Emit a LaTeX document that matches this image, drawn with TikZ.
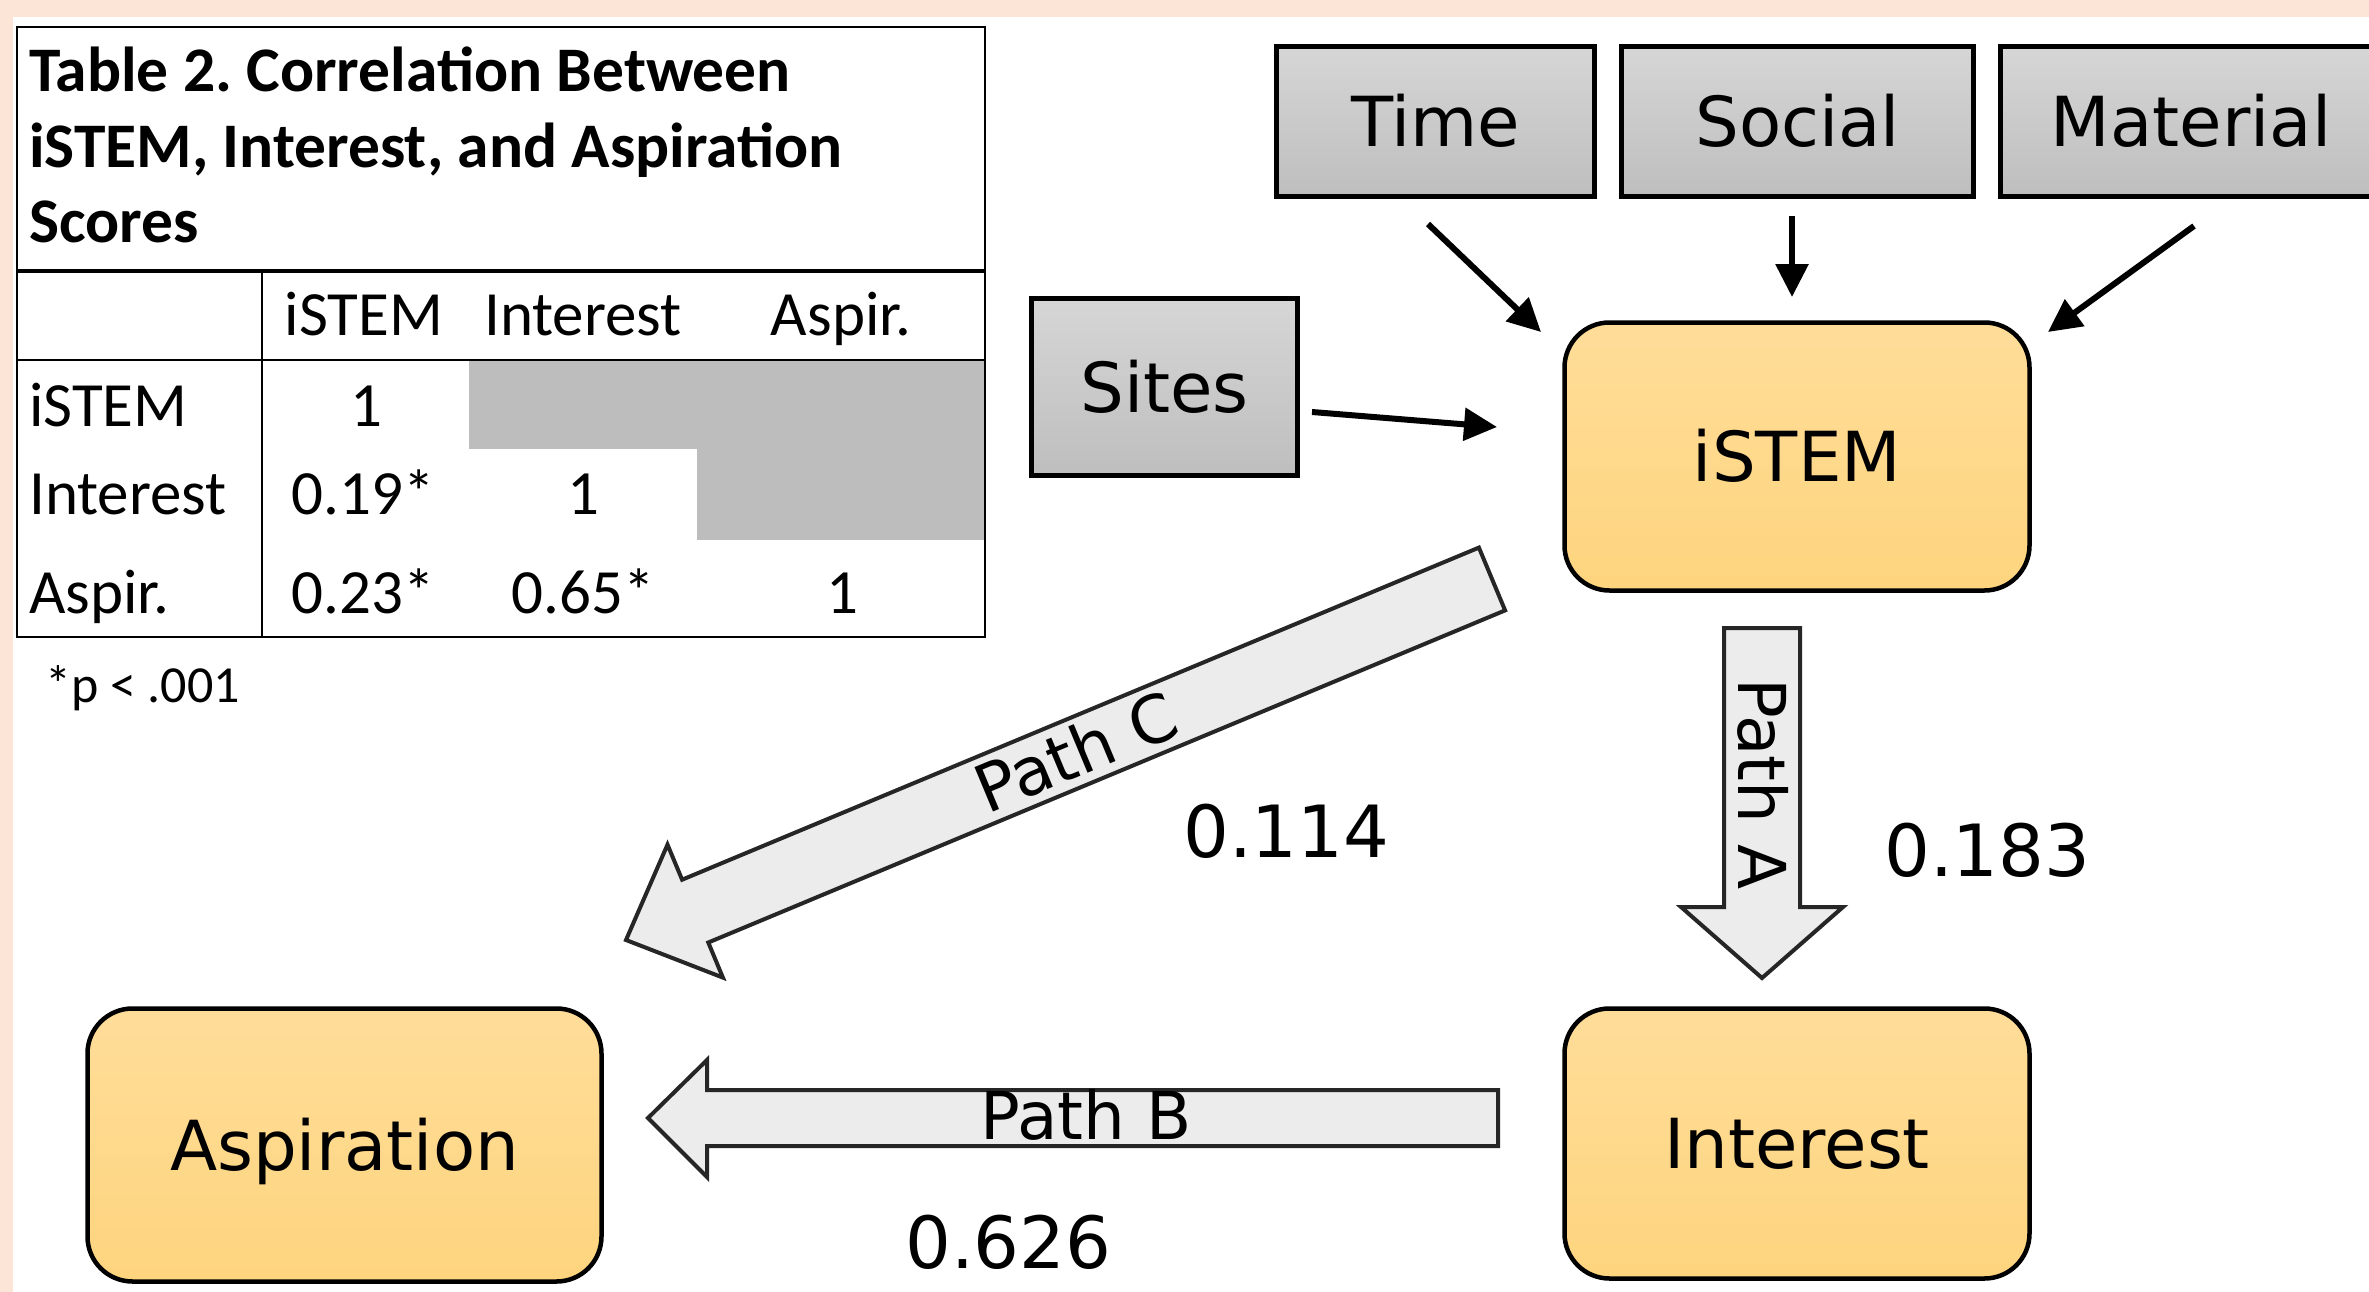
\documentclass[tikz,border=0pt]{standalone}
\usepackage{fontspec}
\setmainfont{Carlito}
\newfontfamily\dvfont{DejaVu Sans}
\usetikzlibrary{arrows.meta}
\definecolor{peach}{RGB}{252,229,214}
\definecolor{cellgray}{RGB}{189,189,189}
\definecolor{boxtop}{RGB}{214,214,214}
\definecolor{boxbot}{RGB}{190,190,190}
\definecolor{orgtop}{RGB}{255,221,153}
\definecolor{orgbot}{RGB}{254,212,126}
\definecolor{arrfill}{RGB}{236,236,236}
\frenchspacing
\begin{document}
\begin{tikzpicture}[x=1pt,y=-1pt,
  tbold/.style={inner sep=0pt, font=\bfseries\fontsize{63.5}{76}\selectfont},
  tcell/.style={inner sep=0pt, font=\fontsize{63}{72}\selectfont},
  tnote/.style={inner sep=0pt, font=\fontsize{52}{62}\selectfont},
  graybox/.style={draw=black, line width=5pt, top color=boxtop, bottom color=boxbot,
    inner sep=0pt, text height=50pt, text depth=0pt, font=\dvfont\fontsize{69}{80}\selectfont},
  orgbox/.style={draw=black, line width=4.5pt, rounded corners=45pt, top color=orgtop, bottom color=orgbot,
    inner sep=0pt, text height=50pt, text depth=0pt, font=\dvfont\fontsize{69}{80}\selectfont},
  blockarr/.style={fill=arrfill, draw=black!85, line width=4pt, line join=miter},
  pathlbl/.style={inner sep=0pt, text height=48pt, text depth=0pt, font=\dvfont\fontsize{66}{76}\selectfont},
  numlbl/.style={inner sep=0pt, font=\dvfont\fontsize{72}{82}\selectfont},
  smallarr/.style={line width=6pt, -{Triangle[length=33pt,width=32pt]}}
]
\useasboundingbox (0,0) rectangle (2369,1292);
\clip (0,0) rectangle (2369,1292);
\fill[white] (0,0) rectangle (2369,1292);
\fill[peach] (0,0) rectangle (2369,17);
\fill[peach] (0,0) rectangle (13,1292);

% ---------- table ----------
\fill[cellgray] (469,360) rectangle (985,449);
\fill[cellgray] (697,449) rectangle (985,540);
\draw[line width=2pt] (17,27) rectangle (985,637);
\draw[line width=4.6pt] (17,271) -- (985,271);
\draw[line width=1.6pt] (17,360) -- (985,360);
\draw[line width=1.6pt] (262,271) -- (262,637);

\node[tbold, anchor=base west] (t1) at (29,92) {Table 2. Correlation Between};
\node[tbold, anchor=base west] (t2) at (29,168) {iSTEM, Interest, and Aspiration};
\node[tbold, anchor=base west] (t3) at (29,243) {Scores};

\node[tcell, anchor=base] (h1) at (364,335) {iSTEM};
\node[tcell, anchor=base] (h2) at (583,335) {Interest};
\node[tcell, anchor=base] (h3) at (841,335) {Aspir.};

\node[tcell, anchor=base west] (r1) at (29,426) {iSTEM};
\node[tcell, anchor=base west] (r2) at (29,514) {Interest};
\node[tcell, anchor=base west] (r3) at (29,613) {Aspir.};

\node[tcell, anchor=base] (c11) at (366,426) {1};
\node[tcell, anchor=base] (c21) at (363,514) {0.19*};
\node[tcell, anchor=base] (c22) at (583,514) {1};
\node[tcell, anchor=base] (c31) at (363,613) {0.23*};
\node[tcell, anchor=base] (c32) at (583,613) {0.65*};
\node[tcell, anchor=base] (c33) at (842,613) {1};

\node[tnote, anchor=base west] (fn) at (45,702) {*p < .001};

% ---------- diagram boxes ----------
\node[graybox, minimum width=318pt, minimum height=150.5pt] (time) at (1435.5,121.75) {Time};
\node[graybox, minimum width=352pt, minimum height=150.5pt] (social) at (1797.5,121.75) {Social};
\node[graybox, minimum width=381pt, minimum height=150.5pt] (material) at (2191,121.75) {Material};
\node[graybox, minimum width=266pt, minimum height=177pt] (sites) at (1164.5,387) {Sites};

\node[orgbox, minimum width=465pt, minimum height=268pt] (istem) at (1797,456.5) {iSTEM};
\node[orgbox, minimum width=465pt, minimum height=270pt] (interest) at (1797,1143.5) {Interest};
\node[orgbox, minimum width=514pt, minimum height=273pt] (aspiration) at (344.5,1145) {Aspiration};

% ---------- small arrows ----------
\coordinate (ta1) at (1428,224); \coordinate (ta2) at (1541,332);
\coordinate (sa1) at (1792,216); \coordinate (sa2) at (1792,297);
\coordinate (ma1) at (2194,226); \coordinate (ma2) at (2048,332);
\coordinate (si1) at (1312,412); \coordinate (si2) at (1497,427);
\draw[smallarr] (ta1) -- (ta2);
\draw[smallarr] (sa1) -- (sa2);
\draw[smallarr] (ma1) -- (ma2);
\draw[smallarr] (si1) -- (si2);

% ---------- block arrows ----------
\draw[blockarr] (1724,628) -- (1800,628) -- (1800,907) -- (1843,907) -- (1762,978) -- (1681,907) -- (1724,907) -- cycle;
\draw[blockarr] (1478.9,547.6) -- (1505.1,610.4) -- (708.3,942.5) -- (722.9,977.6) -- (626,940) -- (667.5,844.6) -- (682.1,879.7) -- cycle;
\draw[blockarr] (1498,1090) -- (707,1090) -- (707,1060) -- (648,1118) -- (707,1177) -- (707,1146) -- (1498,1146) -- cycle;

\node[pathlbl, rotate=-90] (pa) at (1762,784) {Path A};
\node[pathlbl] (pb) at (1086,1115) {Path B};
\node[pathlbl, rotate=22.63] (pc) at (1076,752) {Path C};

\node[numlbl, anchor=base west] (n1) at (1183,857) {0.114};
\node[numlbl, anchor=base west] (n2) at (1884,876) {0.183};
\node[numlbl, anchor=base west] (n3) at (905,1268) {0.626};
\end{tikzpicture}
\end{document}
